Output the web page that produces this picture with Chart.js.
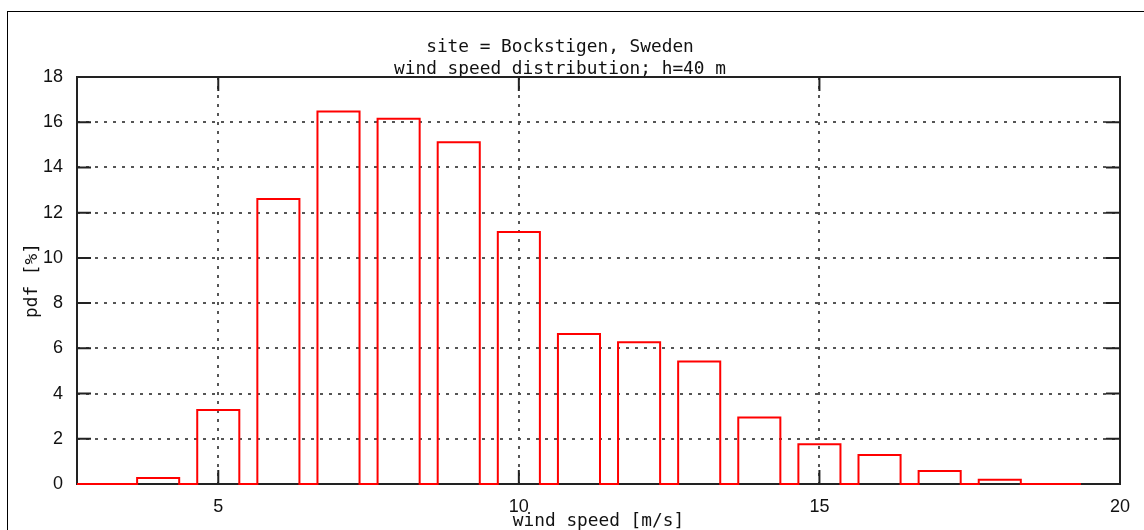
<!DOCTYPE html>
<html>
<head>
<meta charset="utf-8">
<script src="https://cdn.jsdelivr.net/npm/chart.js@4.4.1/dist/chart.umd.min.js"></script>
<style>
  html, body { margin: 0; padding: 0; background: #fff; }
  #wrap { position: relative; width: 1144px; height: 530px; overflow: hidden; }
  #frame { position: absolute; left: 7px; top: 11px; right: -2px; bottom: -2px; border-left: 1px solid #000; border-top: 1px solid #000; pointer-events: none; }
</style>
</head>
<body>
<div id="wrap">
  <canvas id="windChart" width="1144" height="530"></canvas>
  <div id="frame"></div>
</div>
<script>
// wind speed bins (bin centres, m/s) and their share of time (%)
const speeds = [3, 4, 5, 6, 7, 8, 9, 10, 11, 12, 13, 14, 15, 16, 17, 18, 19];
const pdfValues = [0, 0.26, 3.27, 12.6, 16.47, 16.15, 15.11, 11.14, 6.63, 6.27, 5.42, 2.94, 1.76, 1.28, 0.58, 0.19, 0];
const xTicks = [5, 10, 15, 20];
const yTicks = [0, 2, 4, 6, 8, 10, 12, 14, 16, 18];
const boxWidth = 0.7; // gnuplot boxwidth, in m/s

// gnuplot "with boxes" outline: up, across, down, then along the base to the next box
const outline = [];
speeds.forEach((s, i) => {
    const l = s - boxWidth / 2, r = s + boxWidth / 2;
    outline.push({x: l, y: 0}, {x: l, y: pdfValues[i]}, {x: r, y: pdfValues[i]}, {x: r, y: 0});
});

const monoFont = 'DejaVu Sans Mono';
const tickFont = {family: 'Liberation Sans', size: 18, lineHeight: 1.2};

// border box and inward tick marks, drawn under the data like gnuplot does
const frameTicks = {
    id: 'frameTicks',
    beforeDatasetsDraw(chart) {
        const {ctx, chartArea: a, scales: {x, y}} = chart;
        const len = 14;
        ctx.save();
        ctx.strokeStyle = '#222';
        ctx.lineWidth = 2;
        ctx.beginPath();
        xTicks.forEach(v => {
            const px = x.getPixelForValue(v);
            ctx.moveTo(px, a.bottom); ctx.lineTo(px, a.bottom - len);
            ctx.moveTo(px, a.top); ctx.lineTo(px, a.top + len);
        });
        yTicks.forEach(v => {
            const py = y.getPixelForValue(v);
            ctx.moveTo(a.left, py); ctx.lineTo(a.left + len, py);
            ctx.moveTo(a.right, py); ctx.lineTo(a.right - len, py);
        });
        ctx.rect(a.left, a.top, a.right - a.left, a.bottom - a.top);
        ctx.stroke();
        ctx.restore();
    }
};

const ctx = document.getElementById('windChart').getContext('2d');
const windChart = new Chart(ctx, {
    type: 'line',
    data: {
        datasets: [{
            label: 'pdf',
            data: outline,
            borderColor: '#ff0000',
            borderWidth: 2,
            pointRadius: 0,
            fill: false,
            tension: 0,
            clip: 4, // let the base line sit on the x axis without being cut in half
        }],
    },
    options: {
        responsive: false,
        animation: false,
        layout: {padding: {left: 0, right: 24, top: 3, bottom: 0}},
        plugins: {
            legend: {display: false},
            tooltip: {enabled: false},
            title: {
                display: true,
                text: ['site = Bockstigen, Sweden', 'wind speed distribution; h=40 m'],
                color: '#111',
                font: {family: monoFont, size: 17.8, weight: 'normal', lineHeight: '22px'},
                padding: {top: 33, bottom: -3},
            },
        },
        scales: {
            x: {
                type: 'linear',
                min: speeds[0] - boxWidth / 2,
                max: 20,
                afterBuildTicks: (scale) => { scale.ticks = xTicks.map(v => ({value: v})); },
                afterFit: (scale) => { scale.height = 46; },
                ticks: {color: '#111', font: tickFont, padding: 12, maxRotation: 0},
                grid: {
                    drawTicks: false,
                    lineWidth: 2,
                    color: (c) => (c.tick && c.tick.value === 20) ? 'rgba(0,0,0,0)' : '#555',
                },
                border: {display: false, dash: [3, 6]},
                title: {
                    display: true,
                    text: 'wind speed [m/s]',
                    color: '#111',
                    font: {family: monoFont, size: 17.8, lineHeight: 1.2},
                    padding: {top: 0, bottom: -2},
                },
            },
            y: {
                min: 0,
                max: 18,
                afterBuildTicks: (scale) => { scale.ticks = yTicks.map(v => ({value: v})); },
                afterFit: (scale) => { scale.width = 77; },
                ticks: {color: '#111', font: tickFont, padding: 14},
                grid: {
                    drawTicks: false,
                    lineWidth: 2,
                    color: (c) => (c.tick && (c.tick.value === 0 || c.tick.value === 18)) ? 'rgba(0,0,0,0)' : '#555',
                },
                border: {display: false, dash: [3, 6]},
                title: {
                    display: true,
                    text: 'pdf [%]',
                    color: '#111',
                    font: {family: monoFont, size: 17.8, lineHeight: 1.2},
                    padding: {top: 22, bottom: 0},
                },
            },
        },
    },
    plugins: [frameTicks],
});
</script>
</body>
</html>
